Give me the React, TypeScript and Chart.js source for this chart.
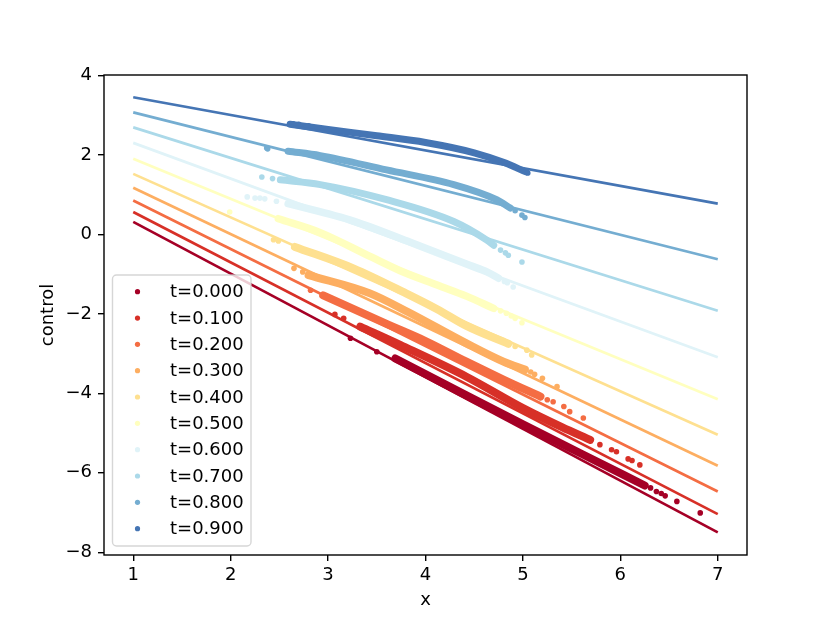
import React, { useEffect, useRef } from 'react';
import { Chart, registerables } from 'chart.js';

Chart.register(...registerables);

// legend labels, one per time step
const tLabels = ['t=0.000', 't=0.100', 't=0.200', 't=0.300', 't=0.400', 't=0.500', 't=0.600', 't=0.700', 't=0.800', 't=0.900'];
const colors = ['#a50026', '#d73027', '#f46d43', '#fdae61', '#fee090', '#ffffbf', '#e0f3f8', '#abd9e9', '#74add1', '#4575b4'];
const bandWidths = [8, 8, 8, 8, 8, 7.5, 7.5, 7, 7, 7];

const xTicks = [1, 2, 3, 4, 5, 6, 7];
const yTicks = [-8, -6, -4, -2, 0, 2, 4];

// straight reference lines, value at x=1 and x=7
const lineX = [1, 7];
const lineStartY = [0.32, 0.57, 0.86, 1.18, 1.53, 1.91, 2.31, 2.70, 3.08, 3.46];
const lineEndY = [-7.50, -7.04, -6.47, -5.82, -5.04, -4.15, -3.09, -1.92, -0.62, 0.78];

// dense scatter bands (centre path) per t
const band0 = [[3.69, -3.12], [4.42, -4.05], [5.0, -4.78], [5.6, -5.52], [6.25, -6.32]];
const band1 = [[3.33, -2.32], [3.74, -2.78], [4.42, -3.58], [5.0, -4.37], [5.4, -4.85], [5.69, -5.17]];
const band2 = [[2.95, -1.53], [3.6, -2.25], [4.0, -2.68], [4.42, -3.2], [4.8, -3.65], [5.18, -4.08]];
const band3 = [[2.8, -1.02], [3.43, -1.48], [3.82, -1.95], [4.42, -2.74], [4.8, -3.2], [5.02, -3.4]];
const band4 = [[2.66, -0.31], [3.26, -0.85], [3.8, -1.48], [4.12, -1.88], [4.42, -2.3], [4.85, -2.75]];
const band5 = [[2.49, 0.4], [2.92, 0.05], [3.43, -0.55], [3.74, -0.91], [4.12, -1.27], [4.42, -1.55], [4.7, -1.86]];
const band6 = [[2.59, 0.78], [3.26, 0.34], [3.85, -0.2], [4.46, -0.78], [4.63, -0.94], [4.75, -1.1]];
const band7 = [[2.51, 1.38], [2.92, 1.26], [3.6, 0.88], [4.29, 0.33], [4.63, -0.14], [4.7, -0.27]];
const band8 = [[2.59, 2.1], [2.92, 1.99], [3.6, 1.63], [4.29, 1.26], [4.73, 0.88], [4.87, 0.67]];
const band9 = [[2.61, 2.78], [3.0, 2.65], [3.5, 2.49], [4.0, 2.32], [4.5, 2.06], [4.8, 1.82], [5.03, 1.58]];

// sparse points at the ends of each band
const dots0 = [[3.23, -2.61], [3.5, -2.95], [6.31, -6.38], [6.37, -6.47], [6.42, -6.52], [6.46, -6.58], [6.58, -6.72], [6.82, -7.01]];
const dots1 = [[3.07, -2.01], [3.16, -2.11], [5.79, -5.29], [5.91, -5.42], [5.96, -5.47], [6.08, -5.65], [6.12, -5.69], [6.2, -5.8]];
const dots2 = [[2.82, -1.4], [5.25, -4.16], [5.31, -4.21], [5.42, -4.33], [5.48, -4.46], [5.62, -4.62]];
const dots3 = [[2.65, -0.85], [2.74, -0.94], [5.08, -3.46], [5.12, -3.52], [5.2, -3.62], [5.35, -3.83]];
const dots4 = [[2.44, -0.13], [2.49, -0.16], [4.92, -2.82], [5.04, -2.91], [5.09, -3.03]];
const dots5 = [[1.99, 0.57], [4.77, -1.92], [4.83, -1.98], [4.88, -2.05], [4.92, -2.11], [4.99, -2.22]];
const dots6 = [[2.17, 0.95], [2.25, 0.92], [2.3, 0.92], [2.35, 0.9], [2.47, 0.84], [4.81, -1.18], [4.84, -1.21], [4.9, -1.32]];
const dots7 = [[2.32, 1.45], [2.43, 1.41], [4.77, -0.39], [4.82, -0.46], [4.85, -0.52], [4.99, -0.69]];
const dots8 = [[2.37, 2.18], [2.38, 2.16], [4.92, 0.6], [4.99, 0.49], [5.02, 0.43]];
const dots9 = [[2.64, 2.79], [2.7, 2.78], [2.8, 2.74], [5.05, 1.55]];

const bands = [band0, band1, band2, band3, band4, band5, band6, band7, band8, band9];
const dots = [dots0, dots1, dots2, dots3, dots4, dots5, dots6, dots7, dots8, dots9];

const toXY = (arr: number[][]) => arr.map(([x, y]) => ({ x, y }));
const fmt = (v: number) => (v < 0 ? '\u2212' + Math.abs(v) : String(v));

// spines + legend drawn inside the axes like matplotlib
const framePlugin = {
    id: 'frame',
    afterDatasetsDraw(chart: any) {
        const { ctx, chartArea } = chart;
        ctx.save();
        ctx.strokeStyle = '#000';
        ctx.lineWidth = 1.4;
        ctx.strokeRect(chartArea.left, chartArea.top, chartArea.right - chartArea.left, chartArea.bottom - chartArea.top);

        const bx = chartArea.left + 8.5;
        const by = chartArea.bottom - 9 - 271;
        ctx.beginPath();
        ctx.roundRect(bx, by, 138.5, 271, 4);
        ctx.fillStyle = 'rgba(255,255,255,0.8)';
        ctx.fill();
        ctx.strokeStyle = 'rgba(204,204,204,0.8)';
        ctx.lineWidth = 1.4;
        ctx.stroke();

        ctx.font = '18px "DejaVu Sans", sans-serif';
        ctx.textBaseline = 'middle';
        ctx.textAlign = 'left';
        tLabels.forEach((label, i) => {
            const y = by + 16.7 + i * 26.33;
            ctx.beginPath();
            ctx.arc(bx + 25, y, 2.6, 0, Math.PI * 2);
            ctx.fillStyle = colors[i];
            ctx.fill();
            ctx.fillStyle = '#000';
            ctx.fillText(label, bx + 57.5, y + 1);
        });
        ctx.restore();
    },
};

const App: React.FC = () => {
    const chartRef = useRef<HTMLCanvasElement>(null);
    const chartInstanceRef = useRef<Chart | null>(null);

    useEffect(() => {
        const canvas = chartRef.current;
        if (!canvas) return;

        Chart.defaults.font.family = '"DejaVu Sans", sans-serif';
        Chart.defaults.font.size = 18;
        Chart.defaults.color = '#000';

        const datasets: any[] = [];
        tLabels.forEach((label, i) => {
            datasets.push({
                label: label + ' line',
                data: lineX.map((x, k) => ({ x, y: k === 0 ? lineStartY[i] : lineEndY[i] })),
                showLine: true,
                borderColor: colors[i],
                borderWidth: 2.7,
                pointRadius: 0,
                order: 10 - i,
            });
            datasets.push({
                label: label + ' band',
                data: toXY(bands[i]),
                showLine: true,
                borderColor: colors[i],
                borderWidth: bandWidths[i],
                borderCapStyle: 'round',
                borderJoinStyle: 'round',
                cubicInterpolationMode: 'monotone',
                pointRadius: 0,
                order: 100 - i,
            });
            datasets.push({
                label,
                data: toXY(dots[i]),
                showLine: false,
                pointRadius: 2.8,
                pointBorderWidth: 0,
                pointBackgroundColor: colors[i],
                order: 100 - i,
            });
        });

        if (chartInstanceRef.current) {
            chartInstanceRef.current.destroy();
        }

        chartInstanceRef.current = new Chart(canvas, {
            type: 'scatter',
            data: { datasets },
            options: {
                animation: false,
                responsive: false,
                events: [],
                layout: { padding: { top: 75, right: 83, bottom: 0, left: 0 } },
                plugins: { legend: { display: false }, tooltip: { enabled: false } },
                scales: {
                    x: {
                        type: 'linear',
                        min: 0.7,
                        max: 7.3,
                        afterBuildTicks: (scale: any) => {
                            scale.ticks = xTicks.map((value) => ({ value }));
                        },
                        afterFit: (scale: any) => {
                            scale.height = 68;
                        },
                        ticks: { padding: 4, maxRotation: 0, callback: (v: any) => fmt(Number(v)) },
                        grid: { display: true, drawOnChartArea: false, drawTicks: true, tickLength: 6, color: '#000', lineWidth: 1.4 },
                        border: { display: false },
                        title: { display: true, text: 'x', padding: { top: 0, bottom: 12 } },
                    },
                    y: {
                        type: 'linear',
                        min: -8.07,
                        max: 4.02,
                        afterBuildTicks: (scale: any) => {
                            scale.ticks = yTicks.map((value) => ({ value }));
                        },
                        afterFit: (scale: any) => {
                            scale.width = 104;
                        },
                        ticks: { padding: 6, callback: (v: any) => fmt(Number(v)) },
                        grid: { display: true, drawOnChartArea: false, drawTicks: true, tickLength: 6, color: '#000', lineWidth: 1.4 },
                        border: { display: false },
                        title: { display: true, text: 'control', padding: { top: 38, bottom: 0 } },
                    },
                },
            },
            plugins: [framePlugin],
        });

        return () => {
            if (chartInstanceRef.current) {
                chartInstanceRef.current.destroy();
                chartInstanceRef.current = null;
            }
        };
    }, []);

    return (
        <div style={{ position: 'fixed', left: 0, top: 0, width: 830, height: 623, background: '#fff' }}>
            <canvas ref={chartRef} width={830} height={623} style={{ display: 'block', width: '830px', height: '623px' }} />
        </div>
    );
};

export default App;
